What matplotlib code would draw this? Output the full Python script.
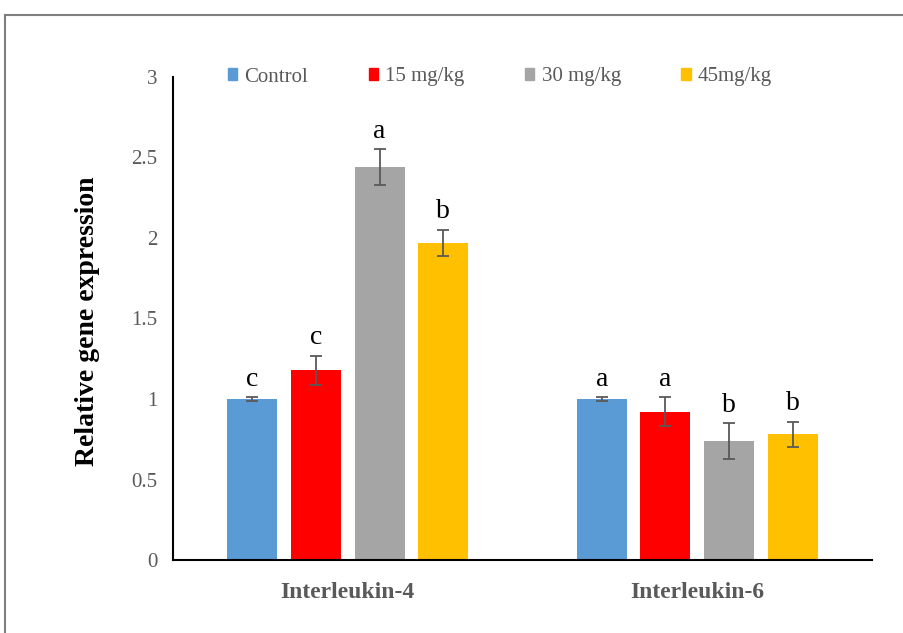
import numpy as np
import matplotlib.pyplot as plt
from matplotlib.patches import Patch, Rectangle

plt.rcParams['font.family'] = ['Liberation Serif', 'DejaVu Serif']

genes = ["Interleukin-4", "Interleukin-6"]
groups = ["Control", "15 mg/kg", "30 mg/kg", "45mg/kg"]
colors = ["#5B9BD5", "#FF0000", "#A5A5A5", "#FFC000"]

# mean values and error bars per group, one entry per gene
values = {
    "Control": [1.00, 1.00],
    "15 mg/kg": [1.18, 0.92],
    "30 mg/kg": [2.44, 0.74],
    "45mg/kg": [1.97, 0.78],
}
errors = {
    "Control": [0.01, 0.01],
    "15 mg/kg": [0.09, 0.09],
    "30 mg/kg": [0.11, 0.11],
    "45mg/kg": [0.08, 0.08],
}
letters = {
    "Control": ["c", "a"],
    "15 mg/kg": ["c", "a"],
    "30 mg/kg": ["a", "b"],
    "45mg/kg": ["b", "b"],
}

fig = plt.figure(figsize=(9.04, 6.33), dpi=100)
ax = fig.add_axes([0.1914, 0.1153, 0.7732, 0.7631])

x = np.arange(len(genes))
width = 0.143
step = 0.182
for i, g in enumerate(groups):
    pos = x + (i - 1.5) * step
    ax.bar(pos, values[g], width, color=colors[i], zorder=2)
    ax.errorbar(pos, values[g], yerr=errors[g], fmt="none", ecolor="#595959",
                elinewidth=1.3, capsize=4, capthick=1.3, zorder=3)
    for p, v, e, t in zip(pos, values[g], errors[g], letters[g]):
        ax.annotate(t, (p, v + e), xytext=(0, 4), textcoords="offset points",
                    ha="center", va="bottom", fontsize=20, color="black")

ax.set_xlim(-0.5, 1.5)
ax.set_ylim(0, 3)
ax.set_yticks([0, 0.5, 1, 1.5, 2, 2.5, 3])
ax.set_yticklabels(["0", "0.5", "1", "1.5", "2", "2.5", "3"])
ax.set_xticks(x)
ax.set_xticklabels(genes, fontsize=17, fontweight="bold", color="#595959")
ax.tick_params(axis="y", length=0, pad=11, labelsize=15, labelcolor="#595959")
ax.tick_params(axis="x", length=0, pad=16)
for s in ["top", "right"]:
    ax.spines[s].set_visible(False)
ax.spines["left"].set_linewidth(1.5)
ax.spines["bottom"].set_linewidth(1.5)

ax.set_ylabel("Relative gene expression", fontsize=20, fontweight="bold")
ax.yaxis.set_label_coords(-0.105, 0.495)

handles = [Patch(color=c, label=g) for c, g in zip(colors, groups)]
fig.legend(handles=handles, loc="center", bbox_to_anchor=(0.553, 1 - 77 / 633),
           ncol=4, frameon=False, fontsize=15, handlelength=0.45,
           handleheight=0.45, handletextpad=0.35, columnspacing=2.9,
           labelcolor="#595959")

# outer frame of the original figure
fig.patches.append(Rectangle((5 / 904, -0.1), 1.2, 1.1 - 15 / 633,
                             transform=fig.transFigure, fill=False,
                             edgecolor="#7f7f7f", linewidth=1.5))

fig.savefig("out.png", dpi=100)
